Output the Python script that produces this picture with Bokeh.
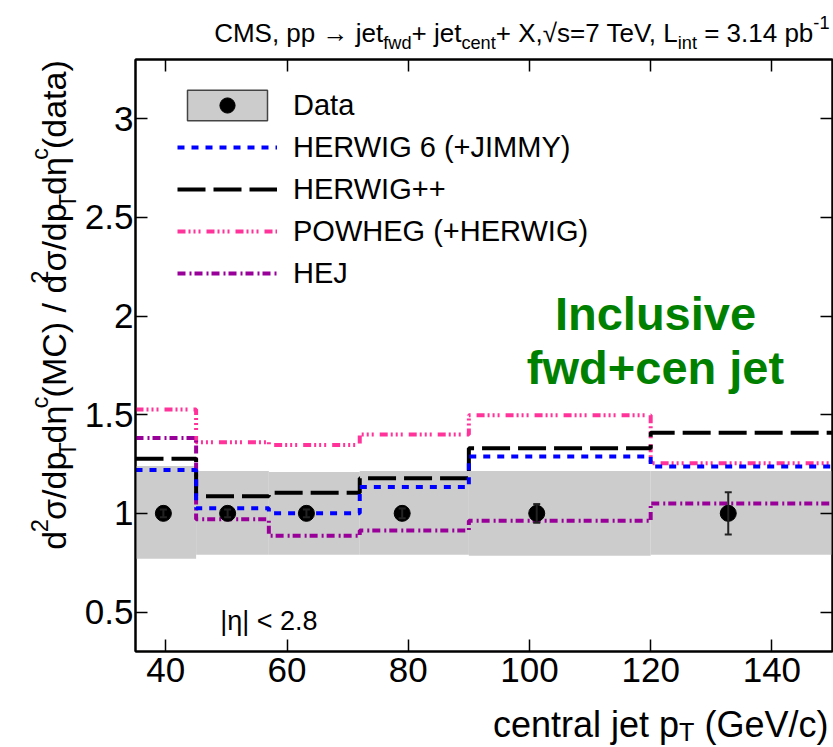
import math
from bokeh.plotting import figure
from bokeh.layouts import column, row
from bokeh.models import (Range1d, FixedTicker, Label, Legend, LegendItem,
                          Whisker, ColumnDataSource, TeeHead, LinearAxis)
from bokeh.embed import file_html
from bokeh.resources import INLINE

# ---------------- data ----------------
bin_edges = [35, 45, 57, 72, 90, 120, 150]
data_pt = [39.6, 50.2, 63.2, 79.0, 101.2, 132.8]
data_ratio = [1.0, 1.0, 1.0, 1.0, 1.0, 1.0]
data_stat = [0.02, 0.02, 0.02, 0.025, 0.047, 0.107]
syst_high = [1.24, 1.215, 1.21, 1.215, 1.215, 1.215]
syst_low = [0.77, 0.79, 0.79, 0.79, 0.785, 0.79]
herwig6 = [1.22, 1.026, 1.0, 1.133, 1.288, 1.237]
herwigpp = [1.277, 1.087, 1.104, 1.178, 1.330, 1.408]
powheg = [1.526, 1.361, 1.347, 1.400, 1.497, 1.254]
hej = [1.382, 0.970, 0.886, 0.913, 0.962, 1.050]
x_ticks = [40, 60, 80, 100, 120, 140]
y_ticks = [0.5, 1, 1.5, 2, 2.5, 3]
y_tick_labels = ["0.5", "1", "1.5", "2", "2.5", "3"]
x_lim = (35, 150)
y_lim = (0.3, 3.3)

# ---------------- page layout (pixels) ----------------
W, H = 833, 747
FL, FR, FT, FB = 135, 832, 59, 651      # plot frame on the page
TOP_H = 57                              # title strip height
LEFT_W = 80                             # y-label strip width
MAIN_BOTTOM = 697                       # main figure bottom edge on page
FONT = "Liberation Sans"


def X(px):
    return x_lim[0] + (px - FL) * (x_lim[1] - x_lim[0]) / (FR - FL)


def Y(py):
    return y_lim[0] + (FB - py) * (y_lim[1] - y_lim[0]) / (FB - FT)


ADV = {' ': 278, '(': 333, ')': 333, '+': 584, ',': 278, '-': 333, '.': 278, '/': 278,
       '<': 584, '=': 584, '|': 260, 'σ': 617, 'η': 556, '→': 1000, '√': 549}
for d in "0123456789":
    ADV[d] = 556
ADV.update({'A': 667, 'B': 667, 'C': 722, 'D': 722, 'E': 667, 'F': 611, 'G': 778, 'H': 722,
            'I': 278, 'J': 500, 'K': 667, 'L': 556, 'M': 833, 'N': 722, 'O': 778, 'P': 667,
            'Q': 778, 'R': 722, 'S': 667, 'T': 611, 'U': 722, 'V': 667, 'W': 944, 'X': 667,
            'Y': 667, 'Z': 611, 'a': 556, 'b': 556, 'c': 500, 'd': 556, 'e': 556, 'f': 278,
            'g': 556, 'h': 556, 'i': 222, 'j': 222, 'k': 500, 'l': 222, 'm': 833, 'n': 556,
            'o': 556, 'p': 556, 'q': 556, 'r': 333, 's': 500, 't': 278, 'u': 556, 'v': 500,
            'w': 722, 'x': 500, 'y': 500, 'z': 500})
KERN = {('T', 'e'): -111, ('V', ','): -111, ('T', 'o'): -111, ('V', 'e'): -55}


def tw(s, size):
    total = sum(ADV.get(ch, 556) for ch in s)
    total += sum(KERN.get((a, b), 0) for a, b in zip(s, s[1:]))
    return total * size / 1000.0


def rich(fig, pieces, size, start, base, align="left", vertical=False,
         sub_scale=0.7, sub_off=0.35, sup_off=0.4):
    """Lay out normal/sub/sup text pieces; coordinates are page pixels
    (the strip figures use page-pixel ranges)."""
    items = []
    for txt, mode in pieces:
        s = size * (sub_scale if mode != "n" else 1.0)
        items.append((txt, mode, s, tw(txt, s)))
    total = sum(it[3] for it in items)
    if align == "right":
        pos = start - total if not vertical else start + total
    else:
        pos = start
    for txt, mode, s, w in items:
        core = txt.lstrip(" ")
        lead = tw(txt[:len(txt) - len(core)], s)
        core = core.rstrip(" ")
        off = sub_off * size if mode == "sub" else (-sup_off * size if mode == "sup" else 0.0)
        common = dict(text=core, text_font=FONT, text_font_size=f"{s:.1f}px",
                      text_align="left", text_baseline="alphabetic", text_color="black")
        if not vertical:
            lab = Label(x=pos + lead, y=base + off, **common)
            pos += w
        else:
            lab = Label(x=base + off, y=pos - lead, angle=math.pi / 2, **common)
            pos -= w
        fig.add_layout(lab)


def strip(x0, y0, w, h):
    f = figure(width=w, height=h, x_range=Range1d(x0, x0 + w), y_range=Range1d(y0 + h, y0),
               output_backend="svg", toolbar_location=None, x_axis_type=None,
               y_axis_type=None, min_border=0, min_border_left=0, min_border_right=0,
               min_border_top=0, min_border_bottom=0)
    f.outline_line_color = None
    f.background_fill_color = "white"
    f.border_fill_color = "white"
    return f


# ---------------- main plot ----------------
p = figure(width=W - LEFT_W, height=MAIN_BOTTOM - TOP_H,
           x_range=Range1d(*x_lim), y_range=Range1d(*y_lim),
           output_backend="svg", toolbar_location=None,
           min_border_left=FL - LEFT_W, min_border_right=W - FR,
           min_border_top=FT - TOP_H, min_border_bottom=MAIN_BOTTOM - FB)
p.xgrid.visible = False
p.ygrid.visible = False
p.outline_line_color = "black"
p.outline_line_width = 2
p.background_fill_color = "white"
p.border_fill_color = "white"


def style_axis(ax, ticks, labels):
    ax.ticker = FixedTicker(ticks=ticks)
    ax.major_tick_in = 12
    ax.major_tick_out = 0
    ax.minor_tick_in = 0
    ax.minor_tick_out = 0
    ax.major_tick_line_color = "black"
    ax.major_tick_line_width = 1.5
    ax.axis_line_color = "black"
    ax.axis_line_width = 2
    if labels:
        ax.major_label_text_font = FONT
        ax.major_label_text_font_size = "35px"
        ax.major_label_text_color = "black"
    else:
        # mirrored axis: ticks only
        ax.major_label_overrides = {t: "" for t in ticks}
        ax.major_label_text_font_size = "1px"
        ax.major_label_standoff = 0


style_axis(p.xaxis[0], x_ticks, True)
p.xaxis[0].major_label_standoff = 6
style_axis(p.yaxis[0], y_ticks, True)
p.yaxis[0].major_label_standoff = 2
p.yaxis[0].major_label_overrides = dict(zip(y_ticks, y_tick_labels))

top_ax = LinearAxis()
style_axis(top_ax, x_ticks, False)
p.add_layout(top_ax, "above")
right_ax = LinearAxis()
style_axis(right_ax, y_ticks, False)
p.add_layout(right_ax, "right")

p.quad(left=bin_edges[:-1], right=bin_edges[1:], bottom=syst_low, top=syst_high,
       fill_color="#cccccc", line_color=None)
r_box = p.quad(left=bin_edges[:-1], right=bin_edges[1:], bottom=syst_low, top=syst_high,
               fill_color="#cccccc", line_color="#444444", line_width=1.5, visible=False)


def stepped(vals):
    return list(vals) + [vals[-1]]


r_pow = p.step(x=bin_edges, y=stepped(powheg), mode="after", line_color="#ff3399",
               line_width=4, line_dash="8 3 2 3 2 3 2 6")
r_hej = p.step(x=bin_edges, y=stepped(hej), mode="after", line_color="#990099",
               line_width=4, line_dash="8 4 2 3")
r_hpp = p.step(x=bin_edges, y=stepped(herwigpp), mode="after", line_color="black",
               line_width=4, line_dash="28 8")
r_h6 = p.step(x=bin_edges, y=stepped(herwig6), mode="after", line_color="#0000ff",
              line_width=4, line_dash="7 7")

err_src = ColumnDataSource(dict(
    x=data_pt,
    lo=[v - e for v, e in zip(data_ratio, data_stat)],
    hi=[v + e for v, e in zip(data_ratio, data_stat)]))
whisk = Whisker(source=err_src, base="x", lower="lo", upper="hi", dimension="height",
                line_color="#222222", line_width=2, level="annotation",
                upper_head=TeeHead(size=7, line_color="#222222", line_width=2),
                lower_head=TeeHead(size=7, line_color="#222222", line_width=2))
p.add_layout(whisk)
r_pts = p.scatter(data_pt, data_ratio, size=16, color="black")

legend = Legend(items=[
    LegendItem(label="Data", renderers=[r_box, r_pts]),
    LegendItem(label="HERWIG 6 (+JIMMY)", renderers=[r_h6]),
    LegendItem(label="HERWIG++", renderers=[r_hpp]),
    LegendItem(label="POWHEG (+HERWIG)", renderers=[r_pow]),
    LegendItem(label="HEJ", renderers=[r_hej]),
], location=(42, 359), orientation="vertical", glyph_width=100, glyph_height=38,
    spacing=4, padding=0, margin=0, label_standoff=16,
    label_text_font=FONT, label_text_font_size="29px", label_text_color="black",
    border_line_alpha=0, background_fill_alpha=0)
p.add_layout(legend)

p.add_layout(Label(x=X(219.7), y=Y(620), text="|η| < 2.8", text_font=FONT,
                   text_font_size="27px", text_align="left", text_baseline="alphabetic",
                   text_color="black"))
for line_txt, base in (("Inclusive", 312.7), ("fwd+cen jet", 367)):
    p.add_layout(Label(x=X(655), y=Y(base), text=line_txt, text_font=FONT,
                       text_font_size="47px", text_font_style="bold", text_align="center",
                       text_baseline="alphabetic", text_color="#008000"))

# ---------------- title strip ----------------
title_fig = strip(0, 0, W, TOP_H)
rich(title_fig, [("CMS, pp → jet", "n"), ("fwd", "sub"), ("+ jet", "n"), ("cent", "sub"),
                 ("+ X,√s=7 TeV, L", "n"), ("int", "sub"), (" = 3.14 pb", "n"),
                 ("-1", "sup")],
     26, 829, 32, align="right", sub_off=0.4, sup_off=0.4)

# ---------------- y-label strip ----------------
ylab_fig = strip(0, TOP_H, LEFT_W, MAIN_BOTTOM - TOP_H)
rich(ylab_fig, [("d", "n"), ("2", "sup"), ("σ/dp", "n"), ("T", "sub"), ("dη", "n"),
                ("c", "sup"), ("(MC) / d", "n"), ("2", "sup"), ("σ/dp", "n"), ("T", "sub"),
                ("dη", "n"), ("c", "sup"), ("(data)", "n")],
     34, 65, 53, align="right", vertical=True, sub_off=0.42, sup_off=0.4)

# ---------------- x-label strip ----------------
xlab_fig = strip(0, MAIN_BOTTOM, W, H - MAIN_BOTTOM)
rich(xlab_fig, [("central jet p", "n"), ("T", "sub"), (" (GeV/c)", "n")],
     36, 828, 724, align="right", sub_off=0.2)

layout = column(title_fig, row(ylab_fig, p, spacing=0), xlab_fig, spacing=0)
open("out.html", "w").write(file_html(layout, INLINE))
